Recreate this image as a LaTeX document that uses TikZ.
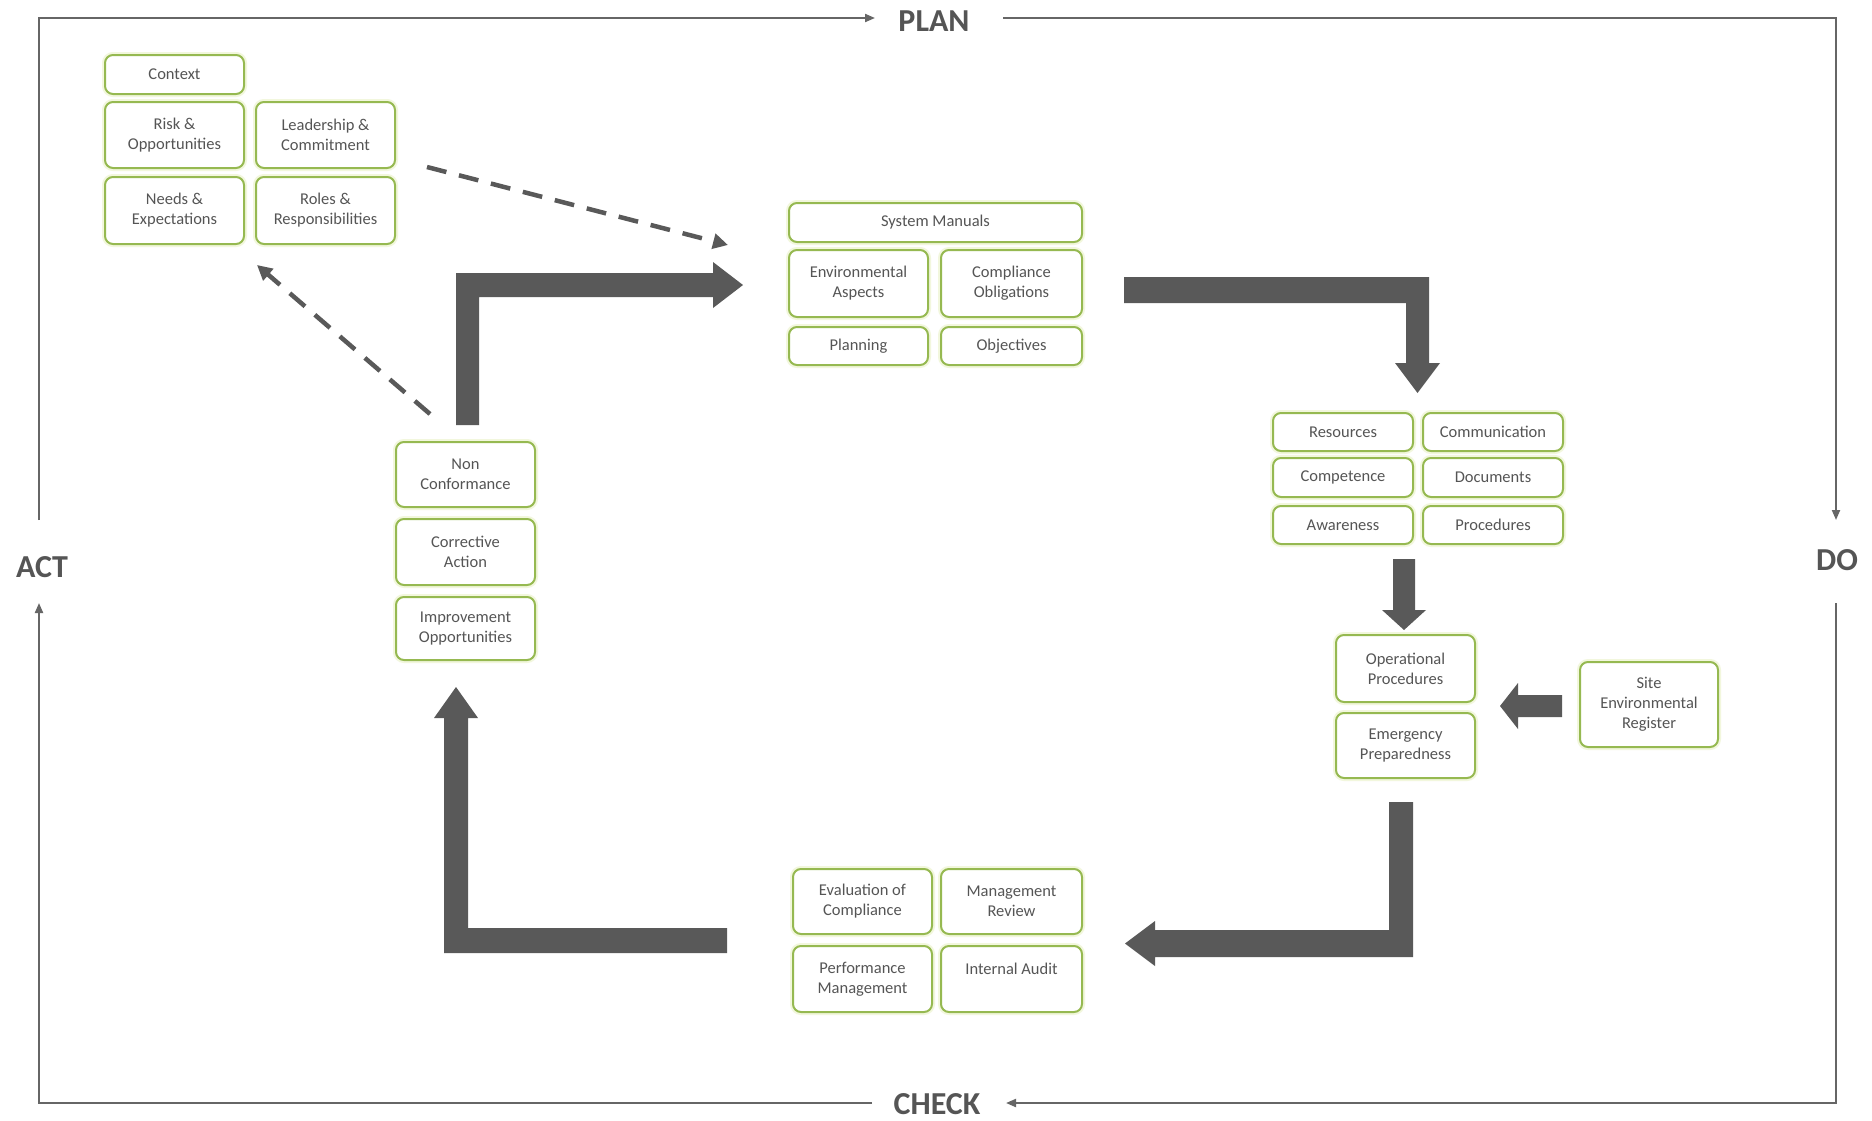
\documentclass[tikz,border=0pt]{standalone}
\usepackage{fontspec}
\setmainfont{Carlito}
\usetikzlibrary{arrows.meta}
\definecolor{boxgreen}{HTML}{96B951}
\definecolor{glow}{HTML}{F2F7DD}
\definecolor{txt}{HTML}{555555}
\definecolor{arr}{HTML}{595959}
\definecolor{framec}{HTML}{666666}
\tikzset{
 gbox/.style={draw=boxgreen, line width=2pt, rounded corners=8pt, fill=white, text=txt, align=center, inner sep=0pt, font=\fontsize{16.5}{20}\selectfont, preaction={draw=glow, line width=6pt}},
 lbl/.style={text=txt, font=\fontsize{32}{36}\selectfont\bfseries, inner sep=0pt},
 frameline/.style={draw=framec, line width=2pt},
 frametip/.style={-{Triangle[length=10pt,width=8pt]}},
 bigarrow/.style={fill=arr, draw=none},
 dasharrow/.style={draw=arr, line width=4.5pt, dash pattern=on 20pt off 13pt, -{Triangle[length=15pt,width=15pt]}}
}
\newcommand\gb[6]{\node[gbox, minimum width=#4pt, minimum height=#5pt] (#1) at (#2,#3) {#6};}
\begin{document}
\begin{tikzpicture}[x=1pt,y=-1pt]
\useasboundingbox (0,0) rectangle (1872,1120);
\fill[white] (0,0) rectangle (1872,1120);

% outer PDCA frame
\node[lbl] (plan) at (934,21) {PLAN};
\node[lbl] (do) at (1837,560) {DO};
\node[lbl] (check) at (937,1104) {CHECK};
\node[lbl] (act) at (42,567) {ACT};
\draw[frameline, frametip] (39,520) -- (39,18) -- (875,18);
\draw[frameline, frametip] (1003,18) -- (1836,18) -- (1836,520);
\draw[frameline, frametip] (1836,603) -- (1836,1103) -- (1006,1103);
\draw[frameline, frametip] (872,1103) -- (39,1103) -- (39,603);

% PLAN inputs
\gb{context}{174.5}{74.5}{139}{39}{Context}
\gb{risk}{174.5}{135}{139}{66}{Risk \&\\Opportunities}
\gb{lead}{325.5}{135}{139}{66}{Leadership \&\\Commitment}
\gb{needs}{174.5}{210.5}{139}{67}{Needs \&\\Expectations}
\gb{roles}{325.5}{210.5}{139}{67}{Roles \&\\Responsibilities}

% PLAN
\gb{sysman}{935.5}{222.5}{293}{39}{System Manuals}
\gb{envasp}{858.5}{283.5}{139}{67}{Environmental\\Aspects}
\gb{compob}{1011.5}{283.5}{141}{67}{Compliance\\Obligations}
\gb{planning}{858.5}{346}{139}{38}{Planning}
\gb{objectives}{1011.5}{346}{141}{38}{Objectives}

% DO
\gb{resources}{1343}{432}{140}{38}{Resources}
\gb{communication}{1493}{432}{140}{38}{Communication}
\gb{competence}{1343}{477.5}{140}{39}{Competence}
\gb{documents}{1493}{477.5}{140}{39}{Documents}
\gb{awareness}{1343}{525}{140}{38}{Awareness}
\gb{procedures}{1493}{525}{140}{38}{Procedures}
\gb{opproc}{1405.5}{668.5}{139}{67}{Operational\\Procedures}
\gb{emerg}{1405.5}{745.5}{139}{65}{Emergency\\Preparedness}
\gb{site}{1649}{704.5}{138}{85}{Site\\Environmental\\Register}

% CHECK
\gb{evalc}{862.5}{901.5}{139}{65}{Evaluation of\\Compliance}
\gb{mgmtrev}{1011.5}{901.5}{141}{65}{Management\\Review}
\gb{perf}{862.5}{979}{139}{66}{Performance\\Management}
\gb{audit}{1011.5}{979}{141}{66}{Internal Audit\\\mbox{}}

% ACT
\gb{noncon}{465.5}{474.5}{139}{65}{Non\\Conformance}
\gb{corr}{465.5}{552}{139}{66}{Corrective\\Action}
\gb{improve}{465.5}{628.5}{139}{63}{Improvement\\Opportunities}

% big cycle arrows
\fill[bigarrow] (456,425) -- (456,273) -- (713,273) -- (713,262) -- (743,285) -- (713,308) -- (713,297) -- (479,297) -- (479,425) -- cycle;
\fill[bigarrow] (1124,277) -- (1429,277) -- (1429,363) -- (1440,363) -- (1417.5,393) -- (1395,363) -- (1406,363) -- (1406,303) -- (1124,303) -- cycle;
\fill[bigarrow] (1389,802) -- (1413,802) -- (1413,957) -- (1155,957) -- (1155,966) -- (1125,943.5) -- (1155,921) -- (1155,930) -- (1389,930) -- cycle;
\fill[bigarrow] (727,928) -- (727,953) -- (444,953) -- (444,718) -- (434,718) -- (456,687) -- (478,718) -- (468,718) -- (468,928) -- cycle;
% small arrows
\fill[bigarrow] (1393,559) -- (1415,559) -- (1415,610) -- (1426,610) -- (1404,630) -- (1382,610) -- (1393,610) -- cycle;
\fill[bigarrow] (1562,695) -- (1562,717) -- (1518,717) -- (1518,729) -- (1500,706) -- (1518,683) -- (1518,695) -- cycle;

% dashed links
\coordinate (d1s) at (427,167);
\coordinate (d1e) at (728,245);
\coordinate (d2s) at (430,414);
\coordinate (d2e) at (257,265);
\draw[dasharrow] (d1s) -- (d1e);
\draw[dasharrow] (d2s) -- (d2e);
\end{tikzpicture}
\end{document}
